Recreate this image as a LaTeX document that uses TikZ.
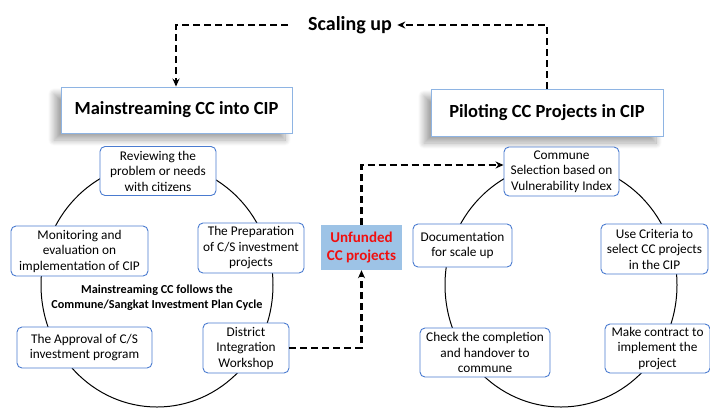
\documentclass[tikz,border=0pt]{standalone}
\usepackage{fontspec}
\setmainfont{Carlito}
\usetikzlibrary{shadows.blur,arrows.meta}
\definecolor{boxblue}{HTML}{4A7BD0}
\definecolor{titleblue}{HTML}{8EB4E3}
\definecolor{unfill}{HTML}{9DC3E6}
\definecolor{unred}{HTML}{F01010}
\tikzset{
  cbox/.style={draw=boxblue, rounded corners=5pt, fill=white, line width=0.9pt, align=center,
    font=\fontsize{13.3}{15.5}\selectfont, inner sep=1pt},
  tbox/.style={draw=titleblue, fill=white, line width=0.9pt, font=\fontsize{18.5}{22}\selectfont\bfseries,
    blur shadow={shadow xshift=-7pt, shadow yshift=-7pt, shadow blur radius=6pt, shadow blur steps=20, shadow opacity=35}},
  dline/.style={line width=2.4pt, dash pattern=on 7pt off 4pt, -{Stealth[length=8pt,width=7pt]}},
  cyc/.style={line width=1pt, black}
}
\begin{document}
\begin{tikzpicture}[x=1pt,y=-1pt]
\useasboundingbox (0,0) rectangle (710,408);
% cycles
\draw[cyc] (157,285) ellipse [x radius=116, y radius=122];
\draw[cyc] (561,285) ellipse [x radius=116, y radius=122];
% titles
\node[font=\fontsize{20}{24}\selectfont\bfseries] (scal) at (350,25) {Scaling up};
\node[tbox, minimum width=231pt, minimum height=46pt] (main) at (176.5,110) {Mainstreaming CC into CIP};
\node[tbox, minimum width=232pt, minimum height=47pt] (pilot) at (547,112.5) {Piloting CC Projects in CIP};
% left cycle boxes
\node[cbox, minimum width=116pt, minimum height=49pt] (rev) at (158,171) {Reviewing the\\problem or needs\\with citizens};
\node[cbox, minimum width=137pt, minimum height=50pt] (mon) at (79.5,251) {Monitoring and\\evaluation on\\implementation of CIP};
\node[cbox, minimum width=106pt, minimum height=50pt] (prep) at (251,248) {The Preparation\\of C/S investment\\projects};
\node[cbox, minimum width=135pt, minimum height=41pt] (appr) at (84.5,347.5) {The Approval of C/S\\investment program};
\node[cbox, minimum width=86pt, minimum height=50pt] (dist) at (246,348) {District\\Integration\\Workshop};
\node[font=\fontsize{12.2}{15}\selectfont\bfseries, align=center] (mtext) at (157,298) {Mainstreaming CC follows the\\Commune/Sangkat Investment Plan Cycle};
% unfunded
\node[fill=unfill, text=unred, font=\fontsize{15}{18}\selectfont\bfseries, align=center, minimum width=81pt, minimum height=45pt, inner sep=1pt] (unf) at (361.5,247.5) {Unfunded\\CC projects};
% right cycle boxes
\node[cbox, minimum width=115pt, minimum height=49pt] (comm) at (561.5,171.5) {Commune\\Selection based on\\Vulnerability Index};
\node[cbox, minimum width=99pt, minimum height=43pt] (doc) at (462.5,245.5) {Documentation\\for scale up};
\node[cbox, minimum width=107pt, minimum height=50pt] (crit) at (654.5,249) {Use Criteria to\\select CC projects\\in the CIP};
\node[cbox, minimum width=130pt, minimum height=49pt] (check) at (485,352.5) {Check the completion\\and handover to\\commune};
\node[cbox, minimum width=105pt, minimum height=49pt] (cont) at (657.5,348.5) {Make contract to\\implement the\\project};
% connectors
\coordinate (l1) at (288,25);
\draw[dline] (l1) -| (main.north -| 176,0);
\draw[dline] (pilot.north) |- ([xshift=2pt]scal.east);
\draw[dline] (dist.east) -| (unf.south);
\draw[dline] (unf.north) |- (comm.west |- 0,165);
\end{tikzpicture}
\end{document}
